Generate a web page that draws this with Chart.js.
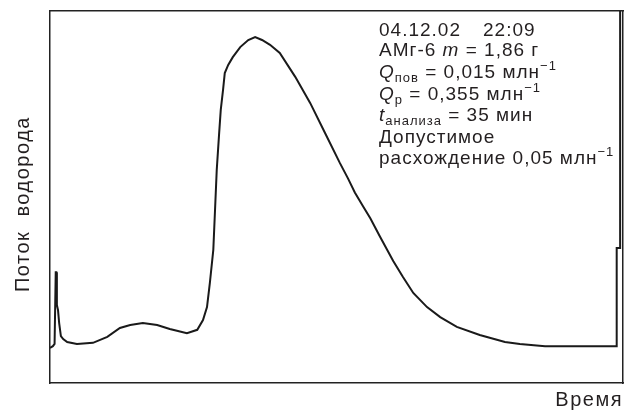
<!DOCTYPE html>
<html>
<head>
<meta charset="utf-8">
<script src="https://cdn.jsdelivr.net/npm/chart.js@4/dist/chart.umd.min.js"></script>
<style>
  html, body { margin: 0; padding: 0; background: #fff; }
  #wrap { width: 626px; height: 412px; }
</style>
</head>
<body>
<div id="wrap"><canvas id="flow-chart" width="626" height="412"></canvas></div>
<script>
// время (усл. ед., 0..100) и поток водорода (усл. ед., 0..100)
const timeValues = [
  0, 0.5, 0.8, 1.0, 1.1, 1.2, 1.4, 1.6, 1.9, 2.3, 3.0, 4.7, 7.5, 10.0, 12.2, 14.0,
  16.2, 18.7, 20.9, 23.9, 25.7, 26.7, 27.4, 27.9, 28.5, 28.8, 29.1, 29.5, 29.8, 30.2,
  30.5, 31.1, 31.9, 33.2, 34.6, 35.8, 37.0, 38.4, 40.1, 42.8, 45.4, 48.0, 50.6, 52.0,
  53.2, 54.6, 55.9, 57.6, 59.9, 61.6, 63.4, 65.8, 68.1, 71.0, 75.0, 79.4, 82.0, 86.4,
  96.0, 98.8, 98.9, 99.5, 99.5
];
const flowValues = [
  9.4, 9.9, 10.5, 29.8, 29.8, 21.0, 19.6, 16.1, 12.6, 11.8, 11.0, 10.5, 10.8, 12.4, 14.8, 15.6,
  16.1, 15.6, 14.5, 13.4, 14.3, 16.9, 20.4, 26.9, 35.8, 46.5, 57.3, 66.7, 73.4, 78.8,
  83.3, 85.5, 87.6, 90.3, 92.2, 93.0, 92.2, 90.9, 88.7, 82.3, 75.3, 67.2, 59.1, 55.0,
  51.2, 47.6, 44.3, 39.3, 32.8, 28.5, 24.2, 20.4, 17.7, 15.1, 12.9, 11.0, 10.5, 9.9,
  9.9, 9.9, 36.3, 36.3, 100
];

const textColor = '#231f20';
const fontFamily = '"Liberation Sans", Arial, sans-serif';

// подпись в правом верхнем углу: фрагменты каждой строки и их базовые линии
const infoBaselines = [36, 56, 78, 100, 121, 143, 164];
const infoLines = [
  [{ t: '04.12.02' }, { t: '22:09', at: 483 }],
  [{ t: 'АМг-6 ' }, { t: 'm', s: 'i' }, { t: ' = 1,86 г' }],
  [{ t: 'Q', s: 'i' }, { t: 'пов', s: 'sub' }, { t: ' = 0,015 млн' }, { t: '−1', s: 'sup' }],
  [{ t: 'Q', s: 'i' }, { t: 'р', s: 'sub' }, { t: ' = 0,355 млн' }, { t: '−1', s: 'sup' }],
  [{ t: 't', s: 'i' }, { t: 'анализа', s: 'sub' }, { t: ' = 35 мин' }],
  [{ t: 'Допустимое' }],
  [{ t: 'расхождение 0,05 млн' }, { t: '−1', s: 'sup' }]
];

const infoPlugin = {
  id: 'info',
  beforeDraw(chart) {
    // разрядка для подписей осей
    chart.ctx.letterSpacing = '1.5px';
  },
  afterDraw(chart) {
    const ctx = chart.ctx;
    ctx.save();
    ctx.letterSpacing = '1px';
    ctx.fillStyle = textColor;
    ctx.textBaseline = 'alphabetic';
    ctx.textAlign = 'left';
    infoLines.forEach((line, i) => {
      let x = 379;
      const y = infoBaselines[i];
      line.forEach(seg => {
        if (seg.at) x = seg.at;
        let dy = 0;
        if (seg.s === 'i') ctx.font = 'italic 19px ' + fontFamily;
        else if (seg.s === 'sub') { ctx.font = '13px ' + fontFamily; dy = 4; }
        else if (seg.s === 'sup') { ctx.font = '13px ' + fontFamily; dy = -8; }
        else ctx.font = '19px ' + fontFamily;
        ctx.fillText(seg.t, x, y + dy);
        x += ctx.measureText(seg.t).width;
      });
    });
    ctx.restore();
    ctx.letterSpacing = '0px';
  }
};

const frame = { display: true, color: '#222', width: 1.5 };
const noGrid = { display: false, drawTicks: false };

new Chart(document.getElementById('flow-chart').getContext('2d'), {
  type: 'line',
  data: {
    datasets: [{
      data: timeValues.map((t, i) => ({ x: t, y: flowValues[i] })),
      borderColor: '#1a1a1a',
      borderWidth: 2,
      pointRadius: 0,
      tension: 0,
      fill: false
    }]
  },
  options: {
    responsive: false,
    animation: false,
    layout: { padding: { left: 8, right: 3, top: 11, bottom: 0 } },
    plugins: { legend: { display: false }, tooltip: { enabled: false } },
    scales: {
      x: {
        type: 'linear', position: 'bottom', min: 0, max: 100,
        grid: noGrid, ticks: { display: false }, border: frame,
        title: {
          display: true, text: 'Время', align: 'end', color: textColor,
          font: { family: fontFamily, size: 20 }, padding: { top: 5, bottom: 0 }
        }
      },
      y: {
        type: 'linear', position: 'left', min: 0, max: 100,
        grid: noGrid, ticks: { display: false }, border: frame,
        title: {
          display: true, text: 'Поток  водорода  ', color: textColor,
          font: { family: fontFamily, size: 20 }, padding: { top: 3, bottom: 15 }
        }
      },
      x2: {
        type: 'linear', position: 'top', min: 0, max: 100,
        grid: noGrid, ticks: { display: false }, border: frame
      },
      y2: {
        type: 'linear', position: 'right', min: 0, max: 100,
        grid: noGrid, ticks: { display: false }, border: frame
      }
    }
  },
  plugins: [infoPlugin]
});
</script>
</body>
</html>
